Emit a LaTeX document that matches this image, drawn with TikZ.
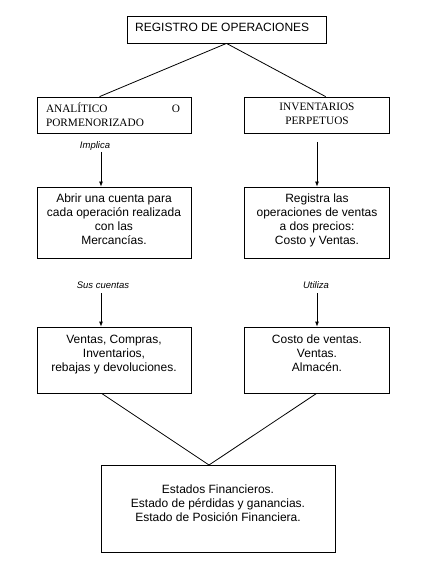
\documentclass[tikz,border=0pt]{standalone}
\usepackage{fontspec}
\setmainfont{Liberation Sans}
\newfontfamily\serifhdr{Liberation Serif}
\usetikzlibrary{arrows.meta}
\begin{document}
\begin{tikzpicture}[x=1pt,y=-1pt,
  box/.style={draw=black,line width=0.8pt,inner sep=0pt,fill=white},
  body/.style={inner sep=0pt,anchor=north,align=center,font=\fontsize{12}{14}\selectfont},
  hdr/.style={inner sep=0pt,anchor=north,font=\serifhdr\fontsize{11.3}{14}\selectfont},
  lab/.style={inner sep=0pt,anchor=base,font=\fontsize{9.5}{11}\selectfont\itshape},
  conn/.style={line width=0.8pt},
  arr/.style={line width=0.8pt,-{Latex[length=5pt,width=4pt]}}]
\useasboundingbox[fill=white] (0,0) rectangle (431,577);

% boxes
\node[box,minimum width=199pt,minimum height=27pt] (top) at (226.5,29.5) {};
\node[box,minimum width=154pt,minimum height=36pt] (lh) at (114,115) {};
\node[box,minimum width=145pt,minimum height=36pt] (rh) at (316.5,115) {};
\node[box,minimum width=154pt,minimum height=71pt] (l2) at (114,222.5) {};
\node[box,minimum width=145pt,minimum height=71pt] (r2) at (316.5,222.5) {};
\node[box,minimum width=154pt,minimum height=66pt] (l3) at (114,360) {};
\node[box,minimum width=145pt,minimum height=66pt] (r3) at (316.5,360) {};
\node[box,minimum width=234pt,minimum height=87pt] (bot) at (218,508.5) {};

% texts
\node[inner sep=0pt,anchor=base west,font=\fontsize{12}{14}\selectfont] (toptext) at (135,31.7) {REGISTRO DE OPERACIONES};
\node[hdr,text width=134pt,align=left] (lhtext) at (113,102.5) {ANALÍTICO\hfill O\\PORMENORIZADO};
\node[hdr,align=center] (rhtext) at (317,102.5) {INVENTARIOS\\PERPETUOS};
\node[body] (l2text) at (114,193.5) {Abrir una cuenta para\\cada operación realizada\\con las\\Mercancías.};
\node[body] (r2text) at (317,193.5) {Registra las\\operaciones de ventas\\a dos precios:\\Costo y Ventas.};
\node[body] (l3text) at (114,334.5) {Ventas, Compras,\\Inventarios,\\rebajas y devoluciones.};
\node[body] (r3text) at (317,334.5) {Costo de ventas.\\Ventas.\\Almacén.};
\node[body] (bottext) at (218,484.5) {Estados Financieros.\\Estado de pérdidas y ganancias.\\Estado de Posición Financiera.};

% labels
\node[lab] (impl) at (95,149) {Implica};
\node[lab] (sus) at (103,288) {Sus cuentas};
\node[lab] (util) at (316,288) {Utiliza};

% connectors
\coordinate (lhtop) at ([xshift=63pt]lh.north west);
\coordinate (rhtop) at ([xshift=82pt]rh.north west);
\draw[conn] (top.south) -- (lhtop);
\draw[conn] (top.south) -- (rhtop);

\coordinate (a1s) at (101,152);
\coordinate (a2s) at (317,142);
\coordinate (a3s) at (101,293);
\coordinate (a4s) at (317,293);
\draw[arr] (a1s) -- (a1s |- l2.north);
\draw[arr] (a2s) -- (a2s |- r2.north);
\draw[arr] (a3s) -- (a3s |- l3.north);
\draw[arr] (a4s) -- (a4s |- r3.north);

\coordinate (l3b) at ([xshift=65pt]l3.south west);
\coordinate (r3b) at ([xshift=73pt]r3.south west);
\coordinate (apex) at (209,465);
\draw[conn] (l3b) -- (apex);
\draw[conn] (r3b) -- (apex);
\end{tikzpicture}
\end{document}
